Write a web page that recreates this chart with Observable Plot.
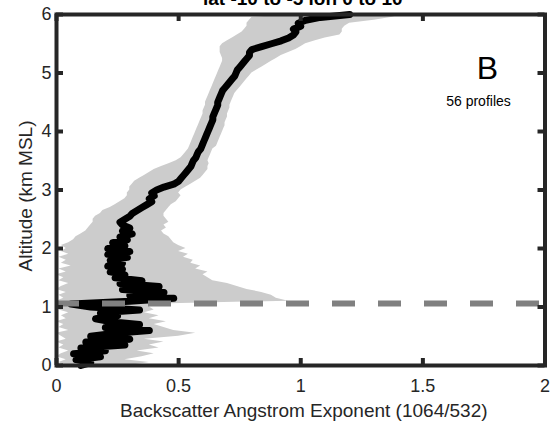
<!DOCTYPE html>
<html>
<head>
<meta charset="utf-8">
<script src="https://cdn.jsdelivr.net/npm/d3@7"></script>
<script src="https://cdn.jsdelivr.net/npm/@observablehq/plot@0.6"></script>
<style>
  html, body { margin: 0; padding: 0; background: white; }
  #chart { width: 553px; height: 423px; overflow: hidden; }
</style>
</head>
<body>
<div id="chart"></div>
<script>
const TITLE = "lat -10 to -5 lon 0 to 10";
const PANEL = "B";
const NOTE = "56 profiles";
const X_LABEL = "Backscatter Angstrom Exponent (1064/532)";
const Y_LABEL = "Altitude (km MSL)";
const X_TICKS = [0, 0.5, 1, 1.5, 2];
const Y_TICKS = [0, 1, 2, 3, 4, 5, 6];
const BL_ALT = 1.06;

const ALT = [
  0.00,0.05,0.10,0.15,0.20,0.25,0.30,0.35,0.40,0.45,0.50,0.55,0.60,0.65,0.70,0.75,0.80,0.85,0.90,0.95,1.00,
  1.05,1.10,1.15,1.20,1.25,1.30,1.35,1.40,1.45,1.50,1.55,1.60,1.65,1.70,1.75,1.80,1.85,1.90,1.95,2.00,
  2.05,2.10,2.15,2.20,2.25,2.30,2.35,2.40,2.45,2.50,2.55,2.60,2.65,2.70,2.75,2.80,2.85,2.90,2.95,3.00,
  3.05,3.10,3.15,3.20,3.25,3.30,3.35,3.40,3.45,3.50,3.55,3.60,3.65,3.70,3.75,3.80,3.85,3.90,3.95,4.00,
  4.05,4.10,4.15,4.20,4.25,4.30,4.35,4.40,4.45,4.50,4.55,4.60,4.65,4.70,4.75,4.80,4.85,4.90,4.95,5.00,
  5.05,5.10,5.15,5.20,5.25,5.30,5.35,5.40,5.45,5.50,5.55,5.60,5.65,5.70,5.75,5.80,5.85,5.90,5.95,6.00
];
const MEDIAN = [
  0.10,0.14,0.08,0.18,0.07,0.20,0.10,0.28,0.12,0.30,0.14,0.24,0.38,0.20,0.34,0.22,0.16,0.25,0.18,0.34,0.14,
  0.06,0.30,0.48,0.30,0.44,0.27,0.42,0.26,0.35,0.24,0.28,0.22,0.27,0.21,0.27,0.22,0.29,0.21,0.30,0.21,
  0.28,0.23,0.29,0.26,0.31,0.27,0.30,0.27,0.26,0.28,0.30,0.31,0.33,0.35,0.37,0.39,0.38,0.40,0.39,0.41,
  0.44,0.48,0.50,0.51,0.52,0.53,0.54,0.55,0.555,0.56,0.57,0.575,0.58,0.59,0.595,0.60,0.605,0.61,0.615,0.62,
  0.625,0.63,0.635,0.64,0.64,0.645,0.65,0.655,0.66,0.66,0.665,0.67,0.675,0.68,0.69,0.70,0.71,0.72,0.73,0.735,
  0.74,0.75,0.76,0.77,0.78,0.79,0.79,0.80,0.84,0.88,0.92,0.95,0.97,0.98,0.97,1.00,0.99,1.02,1.08,1.20
];
const LOW = [
  0.03,0.01,0.04,0.00,0.02,0.05,0.01,0.03,0.00,0.04,0.02,0.00,0.05,0.01,0.03,0.00,0.04,0.02,0.05,0.01,0.03,
  0.02,0.00,0.03,0.01,0.04,0.00,0.02,0.05,0.01,0.03,0.00,0.04,0.01,0.06,0.02,0.04,0.01,0.05,0.02,0.04,
  0.02,0.05,0.07,0.08,0.10,0.12,0.13,0.14,0.15,0.15,0.16,0.18,0.19,0.22,0.24,0.26,0.28,0.29,0.29,0.30,
  0.30,0.31,0.32,0.34,0.36,0.38,0.40,0.43,0.46,0.49,0.51,0.52,0.53,0.54,0.545,0.55,0.555,0.56,0.565,0.57,
  0.575,0.58,0.585,0.59,0.595,0.60,0.60,0.605,0.61,0.61,0.615,0.62,0.625,0.63,0.635,0.64,0.645,0.65,0.655,0.66,
  0.665,0.67,0.675,0.68,0.68,0.675,0.67,0.67,0.67,0.68,0.70,0.72,0.74,0.76,0.77,0.78,0.78,0.79,0.80,0.97
];
const HIGH = [
  0.30,0.38,0.28,0.35,0.40,0.33,0.42,0.38,0.44,0.36,0.50,0.57,0.48,0.44,0.40,0.45,0.38,0.42,0.36,0.40,0.38,
  0.42,0.95,0.90,0.88,0.84,0.78,0.74,0.70,0.64,0.62,0.60,0.62,0.57,0.59,0.55,0.56,0.52,0.54,0.50,0.53,
  0.50,0.48,0.47,0.46,0.44,0.43,0.45,0.44,0.46,0.45,0.44,0.44,0.45,0.46,0.47,0.49,0.50,0.51,0.50,0.51,
  0.53,0.55,0.57,0.59,0.60,0.61,0.62,0.62,0.625,0.62,0.625,0.63,0.635,0.64,0.655,0.66,0.665,0.67,0.675,0.68,
  0.685,0.69,0.69,0.695,0.70,0.70,0.705,0.71,0.71,0.715,0.72,0.725,0.73,0.74,0.75,0.76,0.77,0.78,0.79,0.80,
  0.82,0.84,0.86,0.88,0.90,0.92,0.95,0.98,1.00,1.02,1.06,1.10,1.16,1.17,1.17,1.18,1.20,1.30,1.37,1.42
];

const data = ALT.map((a, i) => ({alt: a, median: MEDIAN[i], low: LOW[i], high: HIGH[i]}));

const INK = "#262626";
const FONT = "'Liberation Sans', Arial, Helvetica, sans-serif";
const fmt = d => `${d}`;

const W = 553, H = 423, MT = 14, MB = 58, ML = 56, MR = 8.5;
const TICK = 7;
const innerW = W - ML - MR, innerH = H - MT - MB;

const chart = Plot.plot({
  width: W,
  height: H,
  marginTop: MT,
  marginBottom: MB,
  marginLeft: ML,
  marginRight: MR,
  x: {domain: [0, 2]},
  y: {domain: [0, 6]},
  style: {fontFamily: FONT, fontSize: "18px", color: INK, background: "white", overflow: "visible"},
  marks: [
    Plot.areaX(data, {y: "alt", x1: "low", x2: "high", fill: "#cccccc"}),
    Plot.line(data, {x: "median", y: "alt", stroke: "black", strokeWidth: 7, strokeLinejoin: "round", strokeLinecap: "round"}),
    Plot.ruleY([BL_ALT], {stroke: "#808080", strokeWidth: 6, strokeDasharray: "23,23"}),
    Plot.frame({stroke: INK, strokeWidth: 4}),
    // inward tick marks on all four sides
    Plot.tickX(X_TICKS, {x: d => d, insetTop: innerH - TICK, stroke: INK, strokeWidth: 4}),
    Plot.tickX(X_TICKS, {x: d => d, insetBottom: innerH - TICK, stroke: INK, strokeWidth: 4}),
    Plot.tickY(Y_TICKS, {y: d => d, insetRight: innerW - TICK, stroke: INK, strokeWidth: 4}),
    Plot.tickY(Y_TICKS, {y: d => d, insetLeft: innerW - TICK, stroke: INK, strokeWidth: 4}),
    // tick labels
    Plot.axisX({anchor: "bottom", ticks: X_TICKS, tickFormat: fmt, tickSize: 0, tickPadding: 14, label: null, fontSize: 18, fill: INK}),
    Plot.axisY({anchor: "left", ticks: Y_TICKS, tickFormat: fmt, tickSize: 0, tickPadding: 5, label: null, fontSize: 18, fill: INK}),
    // axis titles
    Plot.text([X_LABEL], {text: d => d, frameAnchor: "bottom", dx: 3, dy: 51, lineAnchor: "bottom", fontSize: 19, fill: INK}),
    Plot.text([Y_LABEL], {text: d => d, frameAnchor: "left", dx: -31, dy: 6, rotate: -90, lineAnchor: "middle", textAnchor: "middle", fontSize: 19, fill: INK}),
    // title (cut off at top as in the reference)
    Plot.text([TITLE], {text: d => d, frameAnchor: "top", dx: 2, dy: -10, lineAnchor: "bottom", fontSize: 19, fontWeight: "bold", fill: "black"}),
    // annotations
    Plot.text([PANEL], {text: d => d, frameAnchor: "top-right", dx: -57.5, dy: 64, lineAnchor: "bottom", textAnchor: "middle", fontSize: 32, fill: "black"}),
    Plot.text([NOTE], {text: d => d, frameAnchor: "top-right", dx: -66.5, dy: 91, lineAnchor: "bottom", textAnchor: "middle", fontSize: 14, fill: "black"})
  ]
});
document.getElementById("chart").appendChild(chart);
</script>
</body>
</html>
